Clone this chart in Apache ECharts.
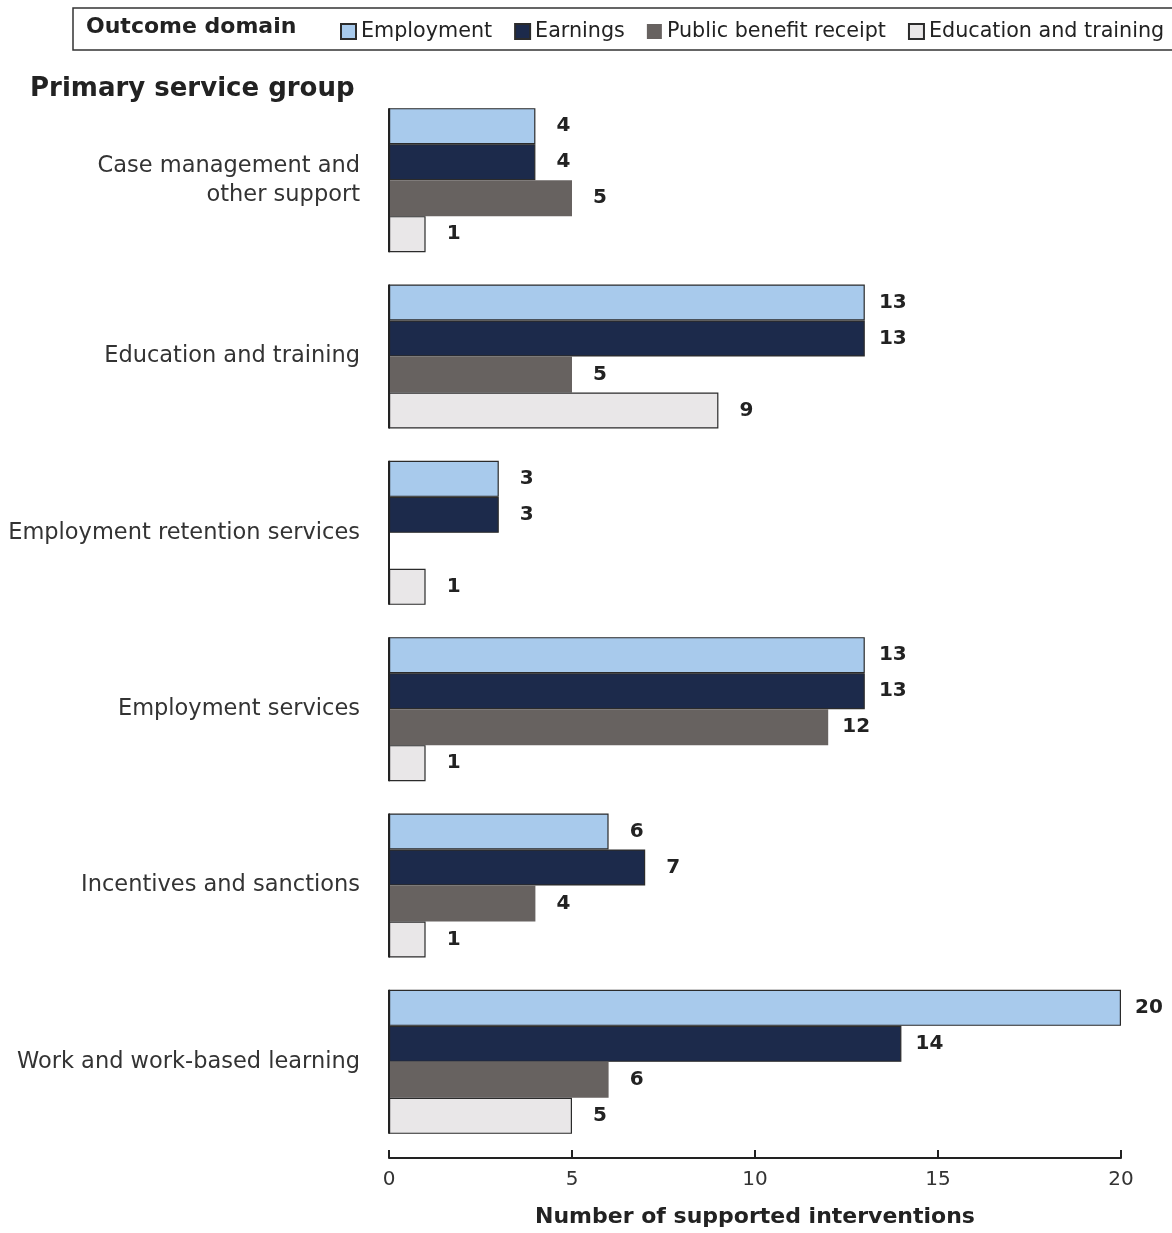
<!DOCTYPE html>
<html>
<head>
<meta charset="utf-8">
<script src="https://cdn.jsdelivr.net/npm/echarts@6/dist/echarts.min.js"></script>
<style>
  html, body { margin: 0; padding: 0; background: #fff; }
  #chart { width: 1172px; height: 1233px; }
</style>
</head>
<body>
<div id="chart"></div>
<script>
// Primary service groups (top to bottom)
const categories = [
  'Case management and\nother support',
  'Education and training',
  'Employment retention services',
  'Employment services',
  'Incentives and sanctions',
  'Work and work-based learning'
];

// Number of supported interventions per outcome domain
const employment      = [4, 13, 3, 13, 6, 20];
const earnings        = [4, 13, 3, 13, 7, 14];
const publicBenefit   = [5, 5, null, 12, 4, 6];
const educationTrain  = [1, 9, 1, 1, 1, 5];

const xTicks = [0, 5, 10, 15, 20];

const FONT = '"DejaVu Sans", sans-serif';
const BAR_W = 36;

const chart = echarts.init(document.getElementById('chart'));

function barSeries(name, data, color, border) {
  return {
    name: name,
    type: 'bar',
    data: data,
    barWidth: BAR_W,
    barGap: '0%',
    itemStyle: {
      color: color,
      borderColor: border ? '#2b2b2b' : color,
      borderWidth: border ? 1.2 : 0
    },
    label: {
      show: true,
      position: 'right',
      distance: 28,
      align: 'center',
      fontFamily: FONT,
      fontWeight: 'bold',
      fontSize: 20,
      color: '#222'
    }
  };
}

const option = {
  animation: false,
  textStyle: { fontFamily: FONT },
  grid: { left: 389, right: 51, top: 92, bottom: 66, containLabel: false },
  graphic: [
    {
      type: 'rect',
      shape: { x: 73, y: 8, width: 1120, height: 42 },
      style: { fill: 'none', stroke: '#333', lineWidth: 1.5 },
      silent: true
    },
    {
      type: 'text',
      left: 86, top: 16,
      style: { text: 'Outcome domain', font: 'bold 22px ' + FONT, fill: '#222' }
    },
    {
      type: 'text',
      left: 30, top: 76,
      style: { text: 'Primary service group', font: 'bold 26px ' + FONT, fill: '#222' }
    }
  ],
  legend: {
    left: 335, top: 16,
    width: 900,
    itemWidth: 15, itemHeight: 15,
    itemGap: 22,
    icon: 'rect',
    textStyle: { fontFamily: FONT, fontSize: 20.7, color: '#222' },
    selectedMode: false
  },
  xAxis: {
    type: 'value',
    min: 0, max: 20, interval: 5,
    offset: 8,
    name: 'Number of supported interventions',
    nameLocation: 'middle',
    nameGap: 48,
    nameTextStyle: { fontFamily: FONT, fontWeight: 'bold', fontSize: 22, color: '#222' },
    axisLine: { show: true, lineStyle: { color: '#222', width: 2 } },
    axisTick: { show: true, inside: true, length: 8, lineStyle: { color: '#222', width: 2 } },
    axisLabel: {
      fontFamily: FONT, fontSize: 20, color: '#333', margin: 12,
      formatter: v => xTicks.indexOf(v) >= 0 ? String(v) : ''
    },
    splitLine: { show: false }
  },
  yAxis: {
    type: 'category',
    data: categories,
    inverse: true,
    axisLine: { show: false },
    axisTick: { show: false },
    axisLabel: {
      fontFamily: FONT, fontSize: 22.5, color: '#333', margin: 29,
      align: 'right', lineHeight: 29
    }
  },
  series: [
    barSeries('Employment', employment, '#a8caec', true),
    barSeries('Earnings', earnings, '#1c2a4b', true),
    barSeries('Public benefit receipt', publicBenefit, '#676260', false),
    barSeries('Education and training', educationTrain, '#e9e7e8', true),
    {
      // baseline segment alongside each group's bars
      type: 'custom',
      silent: true,
      z: 5,
      data: categories.map((c, i) => [0, i]),
      encode: { x: 0, y: 1 },
      renderItem: function (params, api) {
        const p = api.coord([0, api.value(1)]);
        const half = BAR_W * 2;
        return {
          type: 'line',
          shape: { x1: p[0], y1: p[1] - half, x2: p[0], y2: p[1] + half },
          style: { stroke: '#222', lineWidth: 2 }
        };
      }
    }
  ]
};

chart.setOption(option);
</script>
</body>
</html>
